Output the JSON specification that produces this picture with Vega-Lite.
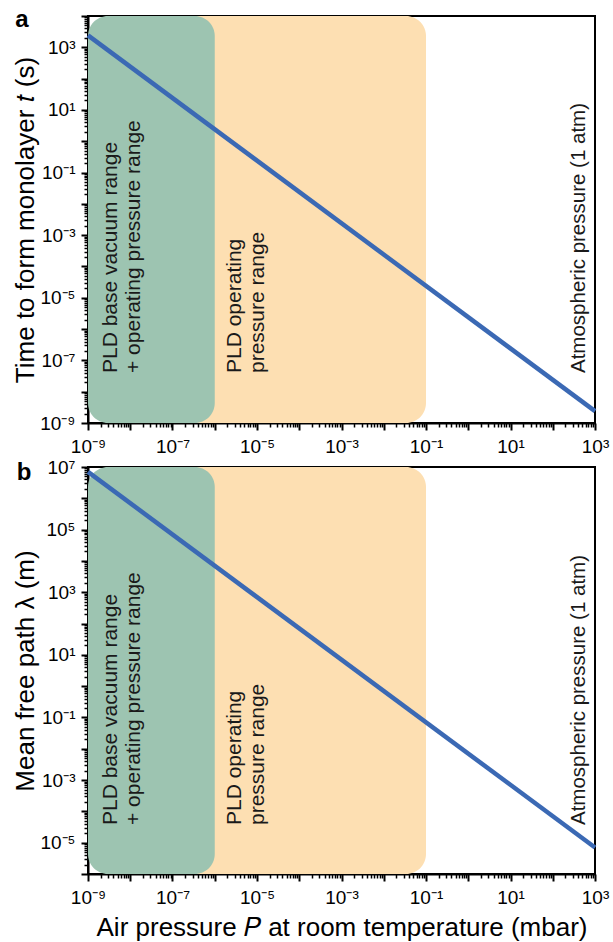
{
  "$schema": "https://vega.github.io/schema/vega-lite/v6.json",
  "background": "white",
  "padding": {"left": 11, "top": 6, "right": 0, "bottom": 0},
  "spacing": 0,
  "resolve": {"scale": {"x": "independent", "y": "independent"}},
  "config": {
    "font": "Liberation Sans",
    "view": {"stroke": "black", "strokeWidth": 2},
    "axis": {
      "grid": false,
      "domainColor": "black",
      "domainWidth": 2,
      "tickColor": "black",
      "labelColor": "black",
      "titleColor": "black",
      "labelFontSize": 19,
      "titleFontSize": 26,
      "titleFontWeight": "normal",
      "labelOverlap": false,
      "labelFlush": false,
      "tickSize": {"condition": {"test": "abs(log(datum.value)/LN10 - round(log(datum.value)/LN10)) < 0.001", "value": 7}, "value": 4},
      "tickWidth": {"condition": {"test": "abs(log(datum.value)/LN10 - round(log(datum.value)/LN10)) < 0.001", "value": 2}, "value": 1.5},
      "labelExpr": "abs(log(datum.value)/LN10 - round(log(datum.value)/LN10)) < 0.001 && abs(round(log(datum.value)/LN10)) % 2 == 1 ? '10' + (datum.value < 1 ? '⁻' : '') + ['⁰','¹','²','³','⁴','⁵','⁶','⁷','⁸','⁹'][abs(round(log(datum.value)/LN10))] : ''"
    }
  },
  "datasets": {
    "panels": [{"panel": "a"}, {"panel": "b"}],
    "bands": [
      {"range": "operating", "from": 1e-7, "to": 0.1},
      {"range": "base", "from": 1e-9, "to": 1e-6}
    ],
    "monolayer": [
      {"P": 1e-9, "t": 2400},
      {"P": 1000, "t": 2.4e-9}
    ],
    "freepath": [
      {"P": 1e-9, "lambda": 7000000},
      {"P": 1000, "lambda": 7e-6}
    ],
    "notes": [
      {"zone": "base", "at": 1e-9, "note": ["PLD base vacuum range", "+ operating pressure range"]},
      {"zone": "operating", "at": 1e-6, "note": ["PLD operating", "pressure range"]},
      {"zone": "atm", "at": 1013.25, "note": "Atmospheric pressure (1 atm)"}
    ]
  },
  "vconcat": [
    {
      "width": 507,
      "height": 407,
      "layer": [
        {
          "data": {"name": "bands"},
          "mark": {"type": "rect", "cornerRadius": 20},
          "encoding": {
            "x": {
              "field": "from", "type": "quantitative",
              "scale": {"type": "log", "domain": [1e-9, 1000], "nice": false},
              "axis": {
                "title": null,
                "labelPadding": 7,
                "values": [1e-9,2e-9,3e-9,4e-9,5e-9,6e-9,7e-9,8e-9,9e-9,1e-8,2e-8,3e-8,4e-8,5e-8,6e-8,7e-8,8e-8,9e-8,1e-7,2e-7,3e-7,4e-7,5e-7,6e-7,7e-7,8e-7,9e-7,1e-6,2e-6,3e-6,4e-6,5e-6,6e-6,7e-6,8e-6,9e-6,1e-5,2e-5,3e-5,4e-5,5e-5,6e-5,7e-5,8e-5,9e-5,1e-4,2e-4,3e-4,4e-4,5e-4,6e-4,7e-4,8e-4,9e-4,1e-3,2e-3,3e-3,4e-3,5e-3,6e-3,7e-3,8e-3,9e-3,1e-2,2e-2,3e-2,4e-2,5e-2,6e-2,7e-2,8e-2,9e-2,0.1,0.2,0.3,0.4,0.5,0.6,0.7,0.8,0.9,1,2,3,4,5,6,7,8,9,10,20,30,40,50,60,70,80,90,100,200,300,400,500,600,700,800,900,1000]
              }
            },
            "x2": {"field": "to"},
            "color": {
              "field": "range", "type": "nominal",
              "scale": {"domain": ["operating", "base"], "range": ["#FDDFB2", "#9DC4B1"]},
              "legend": null
            }
          }
        },
        {
          "data": {"name": "monolayer"},
          "mark": {"type": "line", "color": "#3B69B4", "strokeWidth": 4.5},
          "encoding": {
            "x": {"field": "P", "type": "quantitative"},
            "y": {
              "field": "t", "type": "quantitative",
              "scale": {"type": "log", "domain": [1e-9, 10000], "nice": false},
              "axis": {
                "title": "Time to form monolayer 𝑡 (s)",
                "labelPadding": 6,
                "titlePadding": 1,
                "values": [1e-9,2e-9,3e-9,4e-9,5e-9,6e-9,7e-9,8e-9,9e-9,1e-8,2e-8,3e-8,4e-8,5e-8,6e-8,7e-8,8e-8,9e-8,1e-7,2e-7,3e-7,4e-7,5e-7,6e-7,7e-7,8e-7,9e-7,1e-6,2e-6,3e-6,4e-6,5e-6,6e-6,7e-6,8e-6,9e-6,1e-5,2e-5,3e-5,4e-5,5e-5,6e-5,7e-5,8e-5,9e-5,1e-4,2e-4,3e-4,4e-4,5e-4,6e-4,7e-4,8e-4,9e-4,1e-3,2e-3,3e-3,4e-3,5e-3,6e-3,7e-3,8e-3,9e-3,1e-2,2e-2,3e-2,4e-2,5e-2,6e-2,7e-2,8e-2,9e-2,0.1,0.2,0.3,0.4,0.5,0.6,0.7,0.8,0.9,1,2,3,4,5,6,7,8,9,10,20,30,40,50,60,70,80,90,100,200,300,400,500,600,700,800,900,1000,2000,3000,4000,5000,6000,7000,8000,9000,10000]
              }
            }
          }
        },
        {
          "data": {"name": "notes"},
          "transform": [{"filter": "datum.zone == 'base'"}],
          "mark": {"type": "text", "angle": 270, "align": "left", "baseline": "middle", "fontSize": 21, "lineHeight": 23, "color": "#1a1a1a", "dx": 50, "dy": 23},
          "encoding": {
            "x": {"field": "at", "type": "quantitative"},
            "y": {"datum": 1e-9},
            "text": {"field": "note"}
          }
        },
        {
          "data": {"name": "notes"},
          "transform": [{"filter": "datum.zone == 'operating'"}],
          "mark": {"type": "text", "angle": 270, "align": "left", "baseline": "middle", "fontSize": 21, "lineHeight": 23, "color": "#1a1a1a", "dx": 50, "dy": 20},
          "encoding": {
            "x": {"field": "at", "type": "quantitative"},
            "y": {"datum": 1e-9},
            "text": {"field": "note"}
          }
        },
        {
          "data": {"name": "notes"},
          "transform": [{"filter": "datum.zone == 'atm'"}],
          "mark": {"type": "text", "angle": 270, "align": "left", "baseline": "middle", "fontSize": 20.5, "color": "#1a1a1a", "dx": 50, "dy": -16},
          "encoding": {
            "x": {"field": "at", "type": "quantitative"},
            "y": {"datum": 1e-9},
            "text": {"field": "note"}
          }
        },
        {
          "data": {"name": "panels"},
          "transform": [{"filter": "datum.panel == 'a'"}],
          "mark": {"type": "text", "align": "center", "baseline": "alphabetic", "fontSize": 24, "fontWeight": "bold", "color": "black", "dx": -66, "dy": 11},
          "encoding": {
            "x": {"datum": 1e-9},
            "y": {"datum": 10000},
            "text": {"field": "panel"}
          }
        }
      ]
    },
    {
      "width": 507,
      "height": 407,
      "layer": [
        {
          "data": {"name": "bands"},
          "mark": {"type": "rect", "cornerRadius": 20},
          "encoding": {
            "x": {
              "field": "from", "type": "quantitative",
              "scale": {"type": "log", "domain": [1e-9, 1000], "nice": false},
              "axis": {
                "title": "Air pressure 𝑃 at room temperature (mbar)",
                "labelPadding": 7,
                "titlePadding": 7,
                "values": [1e-9,2e-9,3e-9,4e-9,5e-9,6e-9,7e-9,8e-9,9e-9,1e-8,2e-8,3e-8,4e-8,5e-8,6e-8,7e-8,8e-8,9e-8,1e-7,2e-7,3e-7,4e-7,5e-7,6e-7,7e-7,8e-7,9e-7,1e-6,2e-6,3e-6,4e-6,5e-6,6e-6,7e-6,8e-6,9e-6,1e-5,2e-5,3e-5,4e-5,5e-5,6e-5,7e-5,8e-5,9e-5,1e-4,2e-4,3e-4,4e-4,5e-4,6e-4,7e-4,8e-4,9e-4,1e-3,2e-3,3e-3,4e-3,5e-3,6e-3,7e-3,8e-3,9e-3,1e-2,2e-2,3e-2,4e-2,5e-2,6e-2,7e-2,8e-2,9e-2,0.1,0.2,0.3,0.4,0.5,0.6,0.7,0.8,0.9,1,2,3,4,5,6,7,8,9,10,20,30,40,50,60,70,80,90,100,200,300,400,500,600,700,800,900,1000]
              }
            },
            "x2": {"field": "to"},
            "color": {
              "field": "range", "type": "nominal",
              "scale": {"domain": ["operating", "base"], "range": ["#FDDFB2", "#9DC4B1"]},
              "legend": null
            }
          }
        },
        {
          "data": {"name": "freepath"},
          "mark": {"type": "line", "color": "#3B69B4", "strokeWidth": 4.5},
          "encoding": {
            "x": {"field": "P", "type": "quantitative"},
            "y": {
              "field": "lambda", "type": "quantitative",
              "scale": {"type": "log", "domain": [1e-6, 10000000], "nice": false},
              "axis": {
                "title": "Mean free path λ (m)",
                "labelPadding": 6,
                "titlePadding": 1,
                "values": [1e-6,2e-6,3e-6,4e-6,5e-6,6e-6,7e-6,8e-6,9e-6,1e-5,2e-5,3e-5,4e-5,5e-5,6e-5,7e-5,8e-5,9e-5,1e-4,2e-4,3e-4,4e-4,5e-4,6e-4,7e-4,8e-4,9e-4,1e-3,2e-3,3e-3,4e-3,5e-3,6e-3,7e-3,8e-3,9e-3,1e-2,2e-2,3e-2,4e-2,5e-2,6e-2,7e-2,8e-2,9e-2,0.1,0.2,0.3,0.4,0.5,0.6,0.7,0.8,0.9,1,2,3,4,5,6,7,8,9,10,20,30,40,50,60,70,80,90,100,200,300,400,500,600,700,800,900,1000,2000,3000,4000,5000,6000,7000,8000,9000,10000,20000,30000,40000,50000,60000,70000,80000,90000,100000,200000,300000,400000,500000,600000,700000,800000,900000,1000000,2000000,3000000,4000000,5000000,6000000,7000000,8000000,9000000,10000000]
              }
            }
          }
        },
        {
          "data": {"name": "notes"},
          "transform": [{"filter": "datum.zone == 'base'"}],
          "mark": {"type": "text", "angle": 270, "align": "left", "baseline": "middle", "fontSize": 21, "lineHeight": 23, "color": "#1a1a1a", "dx": 49, "dy": 23},
          "encoding": {
            "x": {"field": "at", "type": "quantitative"},
            "y": {"datum": 1e-6},
            "text": {"field": "note"}
          }
        },
        {
          "data": {"name": "notes"},
          "transform": [{"filter": "datum.zone == 'operating'"}],
          "mark": {"type": "text", "angle": 270, "align": "left", "baseline": "middle", "fontSize": 21, "lineHeight": 23, "color": "#1a1a1a", "dx": 49, "dy": 20},
          "encoding": {
            "x": {"field": "at", "type": "quantitative"},
            "y": {"datum": 1e-6},
            "text": {"field": "note"}
          }
        },
        {
          "data": {"name": "notes"},
          "transform": [{"filter": "datum.zone == 'atm'"}],
          "mark": {"type": "text", "angle": 270, "align": "left", "baseline": "middle", "fontSize": 20.5, "color": "#1a1a1a", "dx": 49, "dy": -16},
          "encoding": {
            "x": {"field": "at", "type": "quantitative"},
            "y": {"datum": 1e-6},
            "text": {"field": "note"}
          }
        },
        {
          "data": {"name": "panels"},
          "transform": [{"filter": "datum.panel == 'b'"}],
          "mark": {"type": "text", "align": "center", "baseline": "alphabetic", "fontSize": 24, "fontWeight": "bold", "color": "black", "dx": -64, "dy": 13},
          "encoding": {
            "x": {"datum": 1e-9},
            "y": {"datum": 10000000},
            "text": {"field": "panel"}
          }
        }
      ]
    }
  ]
}
